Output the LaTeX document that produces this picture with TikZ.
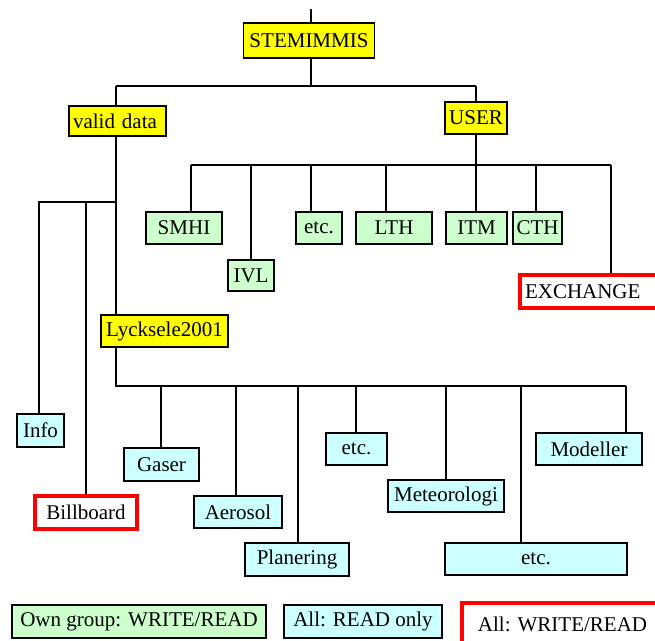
\documentclass[tikz,border=0pt]{standalone}
\usepackage{fontspec}
\setmainfont{Liberation Serif}
\newcommand\boxfont{\fontsize{21}{24}\selectfont}
\definecolor{yel}{HTML}{FFFF00}
\definecolor{grn}{HTML}{CCFFCC}
\definecolor{cyn}{HTML}{CCFFFF}
\definecolor{rd}{HTML}{FF0000}
\tikzset{
  box/.style={draw=black, line width=1.4pt, inner sep=0pt, font=\boxfont},
  ybox/.style={box, fill=yel},
  gbox/.style={box, fill=grn},
  cbox/.style={box, fill=cyn},
  rbox/.style={box, draw=rd, fill=white, line width=3.2pt},
  wire/.style={line width=1.4pt, black},
}
\begin{document}
\begin{tikzpicture}[x=1pt,y=-1pt]
\useasboundingbox (0,0) rectangle (655,640);
\clip (0,0) rectangle (655,640);
\fill[white] (0,0) rectangle (655,640);
% nodes
\node[ybox, minimum width=131pt, minimum height=35pt] (stem) at (309,40.5) {STEMIMMIS};
\node[ybox, minimum width=97pt, minimum height=30pt, inner xsep=4pt, text width=89pt, align=left] (valid) at (117.5,121) {valid data};
\node[ybox, minimum width=62pt, minimum height=32pt] (user) at (476,118) {USER};
\node[gbox, minimum width=76pt, minimum height=32pt] (smhi) at (184,228) {SMHI};
\node[gbox, minimum width=46pt, minimum height=31pt] (ivl) at (251,275.5) {IVL};
\node[gbox, minimum width=46pt, minimum height=32pt] (etca) at (319,228) {etc.};
\node[gbox, minimum width=76pt, minimum height=32pt] (lth) at (394,228) {LTH};
\node[gbox, minimum width=61pt, minimum height=32pt] (itm) at (476.5,228) {ITM};
\node[gbox, minimum width=49pt, minimum height=32pt] (cth) at (537.5,228) {CTH};
\node[rbox, minimum width=140pt, minimum height=33pt, inner xsep=5pt, text width=130pt, align=left] (exch) at (590,291.5) {EXCHANGE};
\node[ybox, minimum width=127pt, minimum height=32pt] (lyck) at (164.5,331) {Lycksele2001};
\node[gbox, fill=cyn, minimum width=47pt, minimum height=33pt] (info) at (40.5,430.5) {Info};
\node[rbox, minimum width=102pt, minimum height=33pt] (bill) at (86,512.5) {Billboard};
\node[cbox, minimum width=75pt, minimum height=33pt] (gaser) at (161.5,464.5) {Gaser};
\node[cbox, minimum width=88pt, minimum height=32pt] (aero) at (238,512) {Aerosol};
\node[cbox, minimum width=104pt, minimum height=33pt] (plan) at (297,559.5) {Planering};
\node[cbox, minimum width=61pt, minimum height=32pt] (etcb) at (356.5,449) {etc.};
\node[cbox, minimum width=116pt, minimum height=32pt] (meteo) at (446,496) {Meteorologi};
\node[cbox, minimum width=182pt, minimum height=32pt] (etcc) at (536,559) {etc.};
\node[cbox, minimum width=106pt, minimum height=32pt] (model) at (589,449) {Modeller};
\node[gbox, minimum width=254pt, minimum height=33pt] (leg1) at (139,621.5) {Own group: WRITE/READ};
\node[cbox, minimum width=158pt, minimum height=33pt] (leg2) at (363,621.5) {All: READ only};
\node[rbox, minimum width=201pt, minimum height=42pt] (leg3) at (562.5,624) {All: WRITE/READ};
% connector coordinates
\coordinate (t0) at (311,9);
\coordinate (t1) at (311,86);
\coordinate (vb0) at (116,202);
\coordinate (vb1) at (39,202);
\coordinate (vb2) at (86,202);
\coordinate (ub1) at (191,165);
\coordinate (ub2) at (251,165);
\coordinate (ub3) at (311,165);
\coordinate (ub4) at (386,165);
\coordinate (ub5) at (476,165);
\coordinate (ub6) at (536,165);
\coordinate (ub7) at (611,165);
\coordinate (lb0) at (116,386);
\coordinate (lb1) at (161,386);
\coordinate (lb2) at (236,386);
\coordinate (lb3) at (298,386);
\coordinate (lb4) at (356,386);
\coordinate (lb5) at (446,386);
\coordinate (lb6) at (521,386);
\coordinate (lb7) at (626,386);
% top
\draw[wire] (t0) -- (t0 |- stem.north);
\draw[wire] (t1 |- stem.south) -- (t1);
\draw[wire] (t1 -| vb0) -- (t1 -| user.north);
\draw[wire] (t1 -| vb0) -- (vb0 |- valid.north);
\draw[wire] (t1 -| user.north) -- (user.north);
% valid data branch
\draw[wire] (vb0 |- valid.south) -- (vb0 |- lyck.north);
\draw[wire] (vb0) -- (vb1) -- (vb1 |- info.north);
\draw[wire] (vb2) -- (vb2 |- bill.north);
% user branch
\draw[wire] (user.south) -- (user.south |- ub1);
\draw[wire] (ub1) -- (ub7);
\foreach \c/\n in {ub1/smhi, ub2/ivl, ub3/etca, ub4/lth, ub5/itm, ub6/cth, ub7/exch}
  \draw[wire] (\c) -- (\c |- \n.north);
% lycksele branch
\draw[wire] (lb0 |- lyck.south) -- (lb0) -- (lb7);
\foreach \c/\n in {lb1/gaser, lb2/aero, lb3/plan, lb4/etcb, lb5/meteo, lb6/etcc, lb7/model}
  \draw[wire] (\c) -- (\c |- \n.north);
\end{tikzpicture}
\end{document}
